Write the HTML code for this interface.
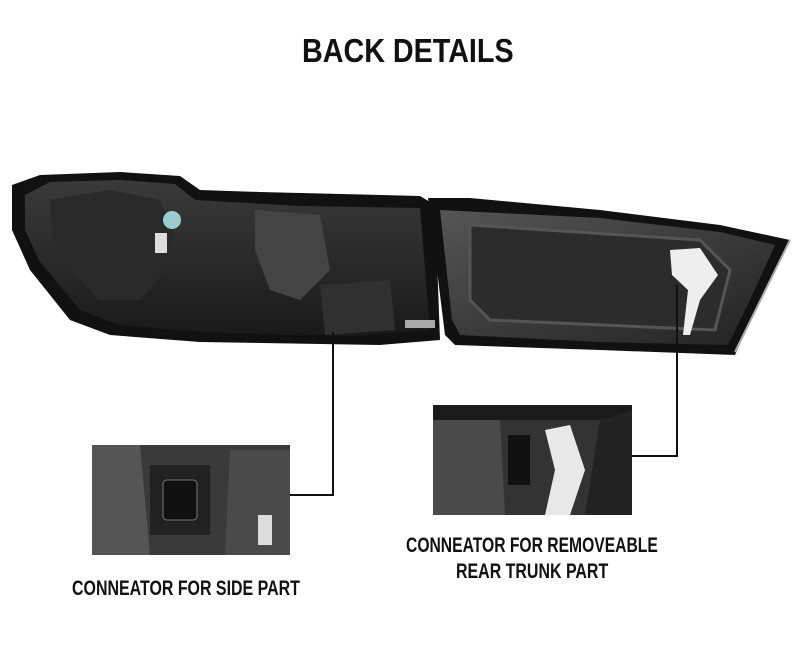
<!DOCTYPE html>
<html><head><meta charset="utf-8"><style>
html,body{margin:0;padding:0;background:#fff;}
body{width:800px;height:645px;position:relative;overflow:hidden;font-family:"Liberation Sans",sans-serif;}
.t{position:absolute;font-weight:bold;color:#111;white-space:nowrap;transform-origin:left top;}
</style></head><body>
<div class="t" style="left:302px;top:32px;font-size:33px;transform:scaleX(0.87)">BACK DETAILS</div>
<svg width="800" height="645" style="position:absolute;left:0;top:0">
<defs>
<linearGradient id="g1" x1="0" y1="0" x2="0" y2="1"><stop offset="0" stop-color="#3a3a3a"/><stop offset="1" stop-color="#1a1a1a"/></linearGradient>
<linearGradient id="g2" x1="0" y1="0" x2="1" y2="1"><stop offset="0" stop-color="#555"/><stop offset="1" stop-color="#222"/></linearGradient>
</defs>
<polygon points="12,185 40,175 120,172 180,176 200,190 260,192 420,196 435,205 440,340 380,345 200,342 110,335 70,320 30,270 12,230" fill="#111"/>
<polygon points="25,195 50,182 120,180 175,184 195,200 300,206 420,208 430,330 350,336 200,332 120,325 80,310 40,262 25,230" fill="url(#g1)"/>
<polygon points="50,200 110,190 160,200 175,235 165,270 140,300 100,300 70,270 52,235" fill="#2a2a2a"/>
<polygon points="255,210 320,215 330,270 300,300 270,290 255,250" fill="#444"/>
<polygon points="320,285 390,280 395,330 325,335" fill="#303030"/>
<circle cx="172" cy="220" r="9" fill="#9cc"/>
<rect x="155" y="233" width="12" height="20" fill="#ddd"/>
<rect x="405" y="320" width="30" height="8" fill="#aaa"/>
<polygon points="428,198 470,198 600,210 720,225 790,240 760,300 735,355 600,350 455,345 445,335" fill="#111"/>
<polygon points="440,210 600,218 720,232 775,245 750,300 728,345 600,342 460,335 452,320" fill="url(#g2)"/>
<polygon points="470,225 700,240 730,270 715,330 490,320 470,300" fill="#2c2c2c" stroke="#555" stroke-width="3"/>
<polygon points="670,250 700,248 718,275 700,300 690,335 683,335 688,290 672,275" fill="#eee"/>
<line x1="735" y1="352" x2="790" y2="240" stroke="#aaa" stroke-width="2"/>
<polyline points="333,332 333,495 290,495" fill="none" stroke="#111" stroke-width="2"/>
<polyline points="677,285 677,456 632,456" fill="none" stroke="#111" stroke-width="2"/>
<rect x="92" y="445" width="198" height="110" fill="#3a3a3a"/>
<polygon points="92,445 140,445 150,555 92,555" fill="#555"/>
<rect x="150" y="465" width="60" height="70" fill="#222"/>
<rect x="163" y="480" width="34" height="40" rx="4" fill="#111" stroke="#777"/>
<polygon points="230,450 290,450 290,555 225,555" fill="#4a4a4a"/>
<rect x="258" y="515" width="14" height="30" fill="#ddd"/>
<rect x="433" y="405" width="199" height="110" fill="#333"/>
<rect x="433" y="405" width="199" height="15" fill="#1a1a1a"/>
<polygon points="433,420 500,420 505,515 433,515" fill="#4a4a4a"/>
<rect x="508" y="435" width="22" height="50" fill="#111"/>
<polygon points="545,430 570,425 585,470 570,515 545,515 555,470" fill="#e8e8e8"/>
<polygon points="600,420 632,410 632,515 585,515" fill="#222"/>
</svg>
<div class="t" style="left:72px;top:577px;font-size:21px;transform:scaleX(0.76)">CONNEATOR FOR SIDE PART</div>
<div class="t" style="left:406px;top:534px;font-size:21px;transform:scaleX(0.746)">CONNEATOR FOR REMOVEABLE</div>
<div class="t" style="left:456px;top:560px;font-size:21px;transform:scaleX(0.76)">REAR TRUNK PART</div>
</body></html>
